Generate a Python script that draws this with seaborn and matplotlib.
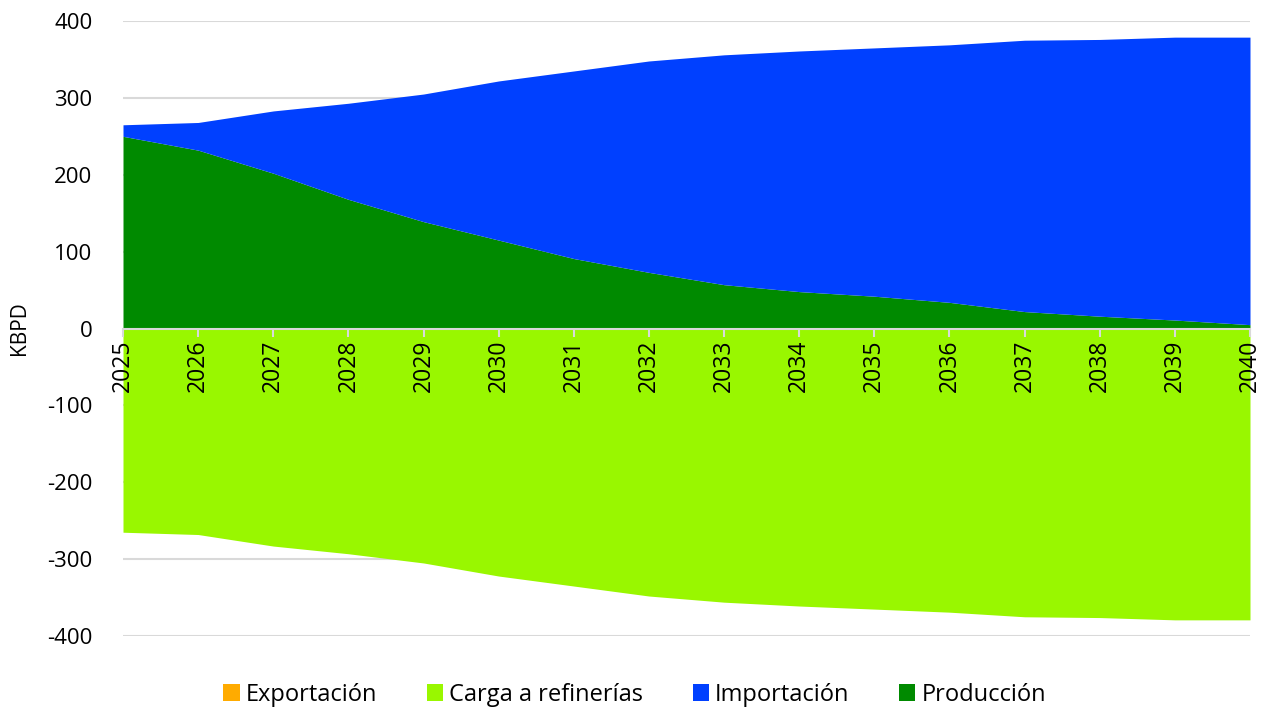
import numpy as np
import pandas as pd
import matplotlib
matplotlib.use('Agg')
import matplotlib.pyplot as plt
import seaborn as sns
from matplotlib.patches import Patch

years = list(range(2025, 2041))
produccion = [250, 232, 202, 168, 139, 115, 91, 73, 57, 48, 42, 34, 22, 16, 11, 5]
importacion = [15, 36, 81, 125, 166, 207, 244, 275, 299, 313, 323, 335, 353, 360, 368, 374]
exportacion = [0] * 16
carga = [-(p + i) for p, i in zip(produccion, importacion)]

colores = {'Exportación': '#ffab00', 'Carga a refinerías': '#99f700',
           'Importación': '#0040ff', 'Producción': '#008a00'}

df = pd.DataFrame({'year': years, 'Producción': produccion, 'Importación': importacion,
                   'Exportación': exportacion, 'Carga a refinerías': carga})

sns.set_theme(style='white')
plt.rcParams['font.family'] = ['Open Sans', 'DejaVu Sans']
plt.rcParams['axes.unicode_minus'] = False
plt.rcParams['text.color'] = 'black'
plt.rcParams['xtick.color'] = 'black'
plt.rcParams['ytick.color'] = 'black'
plt.rcParams['axes.labelcolor'] = 'black'

fig, ax = plt.subplots(figsize=(12.69, 7.14), dpi=100)
fig.subplots_adjust(left=123/1269, right=1250/1269, top=1-21/714, bottom=1-636/714)

# lineas de grilla debajo de las areas
for v in range(-400, 401, 100):
    if v != 0:
        ax.axhline(v, color='#d9d9d9', linewidth=1.5, zorder=0)

# areas positivas apiladas
ax.stackplot(df['year'], df['Producción'], df['Importación'], df['Exportación'],
             colors=[colores['Producción'], colores['Importación'], colores['Exportación']],
             linewidth=0, zorder=1)
# carga a refinerias (negativo)
ax.fill_between(df['year'], 0, df['Carga a refinerías'], color=colores['Carga a refinerías'],
                linewidth=0, zorder=1)

ax.set_xlim(2025, 2040)
ax.set_ylim(-400, 400)
ax.set_yticks(range(-400, 401, 100))
ax.set_axisbelow(False)
for s in ['top', 'right', 'left']:
    ax.spines[s].set_visible(False)
ax.spines['bottom'].set_position(('data', 0))
ax.spines['bottom'].set_color('#d9d9d9')
ax.spines['bottom'].set_linewidth(1.5)
ax.spines['bottom'].set_zorder(5)

ax.set_xticks(years)
ax.set_xticklabels([str(y) for y in years], rotation=90, fontsize=16.5)
ax.tick_params(axis='x', bottom=True, length=6, width=1.5, color='#d9d9d9',
               labelcolor='black', pad=2)
ax.tick_params(axis='y', left=False, labelsize=16, labelcolor='black', pad=16)
ax.set_xlabel('')
ax.set_ylabel('KBPD', fontsize=15, labelpad=12, color='black')

handles = [Patch(facecolor=colores[k], edgecolor='none') for k in colores]
fig.legend(handles, list(colores.keys()), loc='center', bbox_to_anchor=(0.5, 1-695/714),
           ncol=4, frameon=False, fontsize=17, handlelength=0.7, handleheight=0.7,
           handletextpad=0.25, columnspacing=2.1, labelcolor='black')

fig.savefig('out.png', dpi=100)
